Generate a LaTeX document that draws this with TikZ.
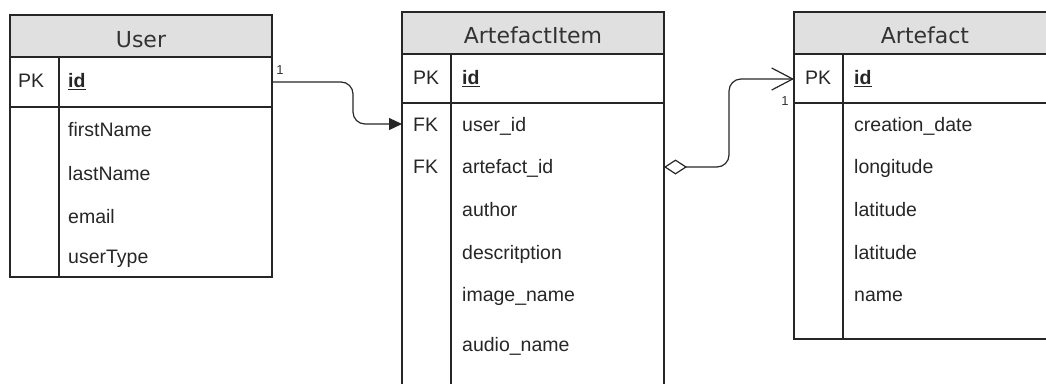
\documentclass[tikz,border=0pt]{standalone}
\usepackage{fontspec}
\setmainfont{Liberation Sans}
\newfontfamily\headfont{DejaVu Sans}
\usetikzlibrary{arrows.meta}
\begin{document}
\begin{tikzpicture}[x=1pt,y=-1pt,
  frame/.style={draw=black!85,line width=1.3pt},
  headfill/.style={fill=black!12},
  title/.style={inner sep=0pt,font=\headfont\fontsize{22}{26}\selectfont,text=black!80},
  field/.style={anchor=mid west,inner sep=0pt,yshift=-2pt,font=\fontsize{19.5}{23}\selectfont,text=black!85},
  keyfield/.style={field,font=\bfseries\fontsize{19.5}{23}\selectfont},
  link/.style={line width=1.2pt,draw=black!85,rounded corners=12pt},
  card/.style={inner sep=0pt,font=\fontsize{13}{15}\selectfont,text=black!80}]
\useasboundingbox (0,0) rectangle (1046,383);
\clip (0,0) rectangle (1046,383);

% ---------- User ----------
\fill[headfill] (10,15) rectangle (272,57);
\draw[frame] (10,15) rectangle (272,277);
\draw[frame] (10,57) -- (272,57) (10,107) -- (272,107) (59,57) -- (59,277);
\node[title] (user) at (141,40) {User};
\node[field] (user-pk) at (18,83) {PK};
\node[keyfield] (user-id) at (68,83) {\underline{id}};
\node[field] (user-f1) at (68,132) {firstName};
\node[field] (user-f2) at (68,176) {lastName};
\node[field] (user-f3) at (68,219) {email};
\node[field] (user-f4) at (68,259) {userType};
\coordinate (user-out) at (272,82);

% ---------- ArtefactItem ----------
\fill[headfill] (402,12) rectangle (664,54);
\draw[frame] (402,12) rectangle (664,430);
\draw[frame] (402,54) -- (664,54) (402,103) -- (664,103) (451,54) -- (451,430);
\node[title] (item) at (533,35) {ArtefactItem};
\node[field] (item-pk) at (413,80) {PK};
\node[keyfield] (item-id) at (462,80) {\underline{id}};
\node[field] (item-fk1) at (413,127) {FK};
\node[field] (item-f1) at (462,127) {user\_id};
\node[field] (item-fk2) at (413,169) {FK};
\node[field] (item-f2) at (462,169) {artefact\_id};
\node[field] (item-f3) at (462,212) {author};
\node[field] (item-f4) at (462,255) {descritption};
\node[field] (item-f5) at (462,297) {image\_name};
\node[field] (item-f6) at (462,347) {audio\_name};
\coordinate (item-in) at (402,124);
\coordinate (item-out) at (664,167);

% ---------- Artefact ----------
\fill[headfill] (794,12) rectangle (1056,54);
\draw[frame] (794,12) rectangle (1056,339);
\draw[frame] (794,54) -- (1056,54) (794,103) -- (1056,103) (843,54) -- (843,339);
\node[title] (art) at (925,35) {Artefact};
\node[field] (art-pk) at (805,80) {PK};
\node[keyfield] (art-id) at (854,80) {\underline{id}};
\node[field] (art-f1) at (854,127) {creation\_date};
\node[field] (art-f2) at (854,169) {longitude};
\node[field] (art-f3) at (854,212) {latitude};
\node[field] (art-f4) at (854,255) {latitude};
\node[field] (art-f5) at (854,297) {name};
\coordinate (art-in) at (794,79);

% ---------- relations ----------
\draw[link,-{Triangle[length=13pt,width=12pt]}]
  (user-out) -- (353,82) -- (353,124) -- (item-in);
\node[card] (card-user) at (280,70) {1};

\draw[link,{Diamond[open,length=23pt,width=15pt]}-{Straight Barb[length=21pt,width=22pt]}]
  (item-out) -- (729,167) -- (729,79) -- (art-in);
\node[card] (card-art) at (785,101) {1};
\end{tikzpicture}
\end{document}
